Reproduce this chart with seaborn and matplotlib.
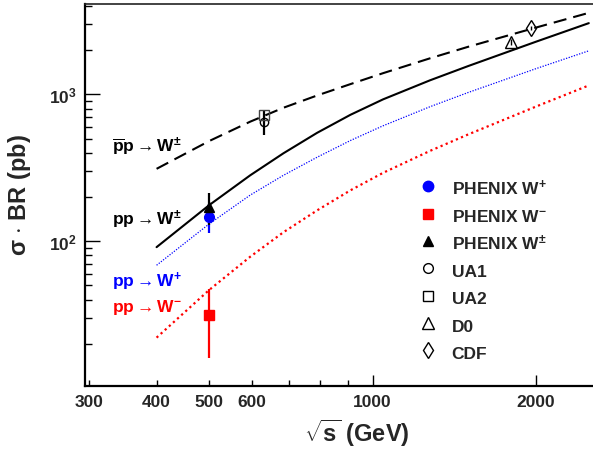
import numpy as np
import pandas as pd
import seaborn as sns
import matplotlib.pyplot as plt
from matplotlib.lines import Line2D
from matplotlib.ticker import FixedLocator, FuncFormatter, NullFormatter, LogLocator

sns.set_style("ticks")
plt.rcParams['font.family'] = ['Liberation Sans', 'DejaVu Sans']
plt.rcParams['font.weight'] = 'bold'
plt.rcParams['mathtext.fontset'] = 'custom'
plt.rcParams['mathtext.rm'] = 'Liberation Sans'
plt.rcParams['mathtext.bf'] = 'Liberation Sans:bold'
plt.rcParams['mathtext.it'] = 'Liberation Sans:italic'

# theory curves: sigma*BR (pb) vs sqrt(s) (GeV)
sqrt_s = [400, 500, 595, 685, 790, 910, 1045, 1275, 1500, 2000, 2500]
ppbar_wpm = [311, 481, 652, 811, 983, 1175, 1395, 1761, 2112, 2856, 3594]
pp_wpm = [91, 176, 281, 397, 547, 726, 925, 1247, 1561, 2288, 3058]
pp_wplus = [68.5, 131, 206, 281, 373, 485, 611, 824, 1031, 1499, 1981]
pp_wminus = [22.0, 46.5, 78.3, 115, 162, 222, 292, 412, 534, 827, 1151]

# measurements: sqrt(s), value, error
phenix_wplus = [500, 146, 33]
phenix_wminus = [500, 31.6, 15.5]
phenix_wpm = [500, 171, 42]
ua1 = [630, 646, 120]
ua2 = [630, 725, 40]
d0 = [1800, 2270, 100]
cdf = [1960, 2830, 100]

x_ticks_major = [1000, 2000]
x_ticks_minor = [300, 400, 500, 600, 700, 800, 900]
x_labelled = [300, 400, 500, 600, 1000, 2000]

n = len(sqrt_s)
curves = pd.DataFrame({
    "sqrt_s": sqrt_s * 4,
    "xsec": ppbar_wpm + pp_wpm + pp_wplus + pp_wminus,
    "proc": ["ppbar"] * n + ["pm"] * n + ["plus"] * n + ["minus"] * n,
})

fig = plt.figure(figsize=(5.93, 4.52), dpi=100)
ax = fig.add_axes([85 / 593, 65 / 452, 508 / 593, 382 / 452])
ax.set_xscale("log")
ax.set_yscale("log")

styles = {
    "ppbar": dict(color="black", lw=1.5, linestyle=(0, (6.3, 3.4))),
    "pm": dict(color="black", lw=1.5, linestyle="-"),
    "plus": dict(color="blue", lw=0.9, linestyle=(0, (1, 1.2))),
    "minus": dict(color="red", lw=1.6, linestyle=(0, (1, 1.5))),
}
for proc, kw in styles.items():
    sns.lineplot(data=curves[curves.proc == proc], x="sqrt_s", y="xsec",
                 ax=ax, legend=False, **kw)

# data points
ax.errorbar(phenix_wplus[0], phenix_wplus[1], yerr=phenix_wplus[2], fmt="o",
            color="blue", ms=7, elinewidth=1.6, capsize=0, zorder=5)
ax.errorbar(phenix_wminus[0], phenix_wminus[1], yerr=phenix_wminus[2], fmt="s",
            color="red", ms=7, elinewidth=1.6, capsize=0, zorder=5)
ax.errorbar(phenix_wpm[0], phenix_wpm[1], yerr=phenix_wpm[2], fmt="^",
            color="black", ms=7, elinewidth=1.6, capsize=0, zorder=5)
ax.errorbar(ua1[0], ua1[1], yerr=ua1[2], fmt="o", mfc="none", mec="black",
            color="black", ms=6, mew=1, elinewidth=1.6, capsize=0, zorder=5)
ax.errorbar(ua2[0], ua2[1], yerr=ua2[2], fmt="s", mfc="none", mec="#444444",
            color="black", ms=6.5, mew=1, elinewidth=1.2, capsize=0, zorder=5)
ax.errorbar(d0[0], d0[1], yerr=d0[2], fmt="^", mfc="none", mec="black",
            color="black", ms=8.5, mew=1, elinewidth=1, capsize=0, zorder=5)
ax.errorbar(cdf[0], cdf[1], yerr=cdf[2], fmt="d", mfc="none", mec="black",
            color="black", ms=8, mew=1, elinewidth=1, capsize=0, zorder=5)

ax.set_xlim(295.3, 2545)
ax.set_ylim(10.3, 4130)

# ticks
ax.xaxis.set_major_locator(FixedLocator(x_ticks_major))
ax.xaxis.set_minor_locator(FixedLocator(x_ticks_minor))
fmt_x = FuncFormatter(lambda v, p: f"{v:g}" if round(v) in x_labelled else "")
ax.xaxis.set_major_formatter(fmt_x)
ax.xaxis.set_minor_formatter(fmt_x)
ax.yaxis.set_major_locator(FixedLocator([100, 1000]))
ax.yaxis.set_minor_locator(LogLocator(base=10, subs=np.arange(2, 10)))
ax.yaxis.set_minor_formatter(NullFormatter())
ax.yaxis.set_major_formatter(FuncFormatter(
    lambda v, p: r"$\mathbf{10^{%d}}$" % round(np.log10(v))))

ax.tick_params(which="both", direction="in", top=False, right=False, color="black")
ax.tick_params(axis="x", which="major", length=8, width=1, labelsize=12.5, pad=6)
ax.tick_params(axis="x", which="minor", length=4.5, width=1, labelsize=12.5, pad=6)
ax.tick_params(axis="y", which="major", length=11, width=1, labelsize=12.5, pad=6)
ax.tick_params(axis="y", which="minor", length=5, width=1)

for side in ["left", "bottom"]:
    ax.spines[side].set_linewidth(1.6)
    ax.spines[side].set_color("black")
ax.spines["top"].set_linewidth(1.2)
ax.spines["top"].set_color("#222222")
ax.spines["right"].set_visible(False)

ax.set_xlabel(r"$\mathbf{\sqrt{s}}$ (GeV)", fontsize=17, fontweight="bold", va="center")
ax.xaxis.set_label_coords(0.535, -0.12)
ax.set_ylabel(r"$\mathbf{\sigma}$ $\cdot$ BR (pb)", fontsize=17, fontweight="bold", va="center")
ax.yaxis.set_label_coords(-0.128, 0.503)

# curve labels
lbl = dict(transform=ax.transAxes, va="center", ha="left", fontsize=12.5)
ax.text(0.053, 0.628, r"$\mathbf{\overline{p}p} \rightarrow \mathbf{W}^{\pm}$", color="black", **lbl)
ax.text(0.053, 0.437, r"$\mathbf{pp} \rightarrow \mathbf{W}^{\pm}$", color="black", **lbl)
ax.text(0.053, 0.275, r"$\mathbf{pp} \rightarrow \mathbf{W^{+}}$", color="blue", **lbl)
ax.text(0.053, 0.209, r"$\mathbf{pp} \rightarrow \mathbf{W^{-}}$", color="red", **lbl)

# legend
handles = [
    Line2D([], [], marker="o", ls="none", color="blue", ms=7.5),
    Line2D([], [], marker="s", ls="none", color="red", ms=7),
    Line2D([], [], marker="^", ls="none", color="black", ms=7.5),
    Line2D([], [], marker="o", ls="none", mfc="none", mec="black", ms=7, mew=1),
    Line2D([], [], marker="s", ls="none", mfc="none", mec="black", ms=7, mew=1),
    Line2D([], [], marker="^", ls="none", mfc="none", mec="black", ms=8, mew=1),
    Line2D([], [], marker="d", ls="none", mfc="none", mec="black", ms=8, mew=1),
]
labels = [r"$\mathbf{PHENIX\ W^{+}}$", r"$\mathbf{PHENIX\ W^{-}}$",
          r"$\mathbf{PHENIX\ W}^{\pm}$", "UA1", "UA2", "D0", "CDF"]
ax.legend(handles, labels, loc="upper left", frameon=False, fontsize=12.5,
          bbox_to_anchor=(419 / 593, 1 - 179 / 452), bbox_transform=fig.transFigure,
          borderpad=0, borderaxespad=0, handlelength=1.0, handleheight=1.4,
          handletextpad=0.88, labelspacing=0.41)

fig.savefig("out.png", dpi=100)
